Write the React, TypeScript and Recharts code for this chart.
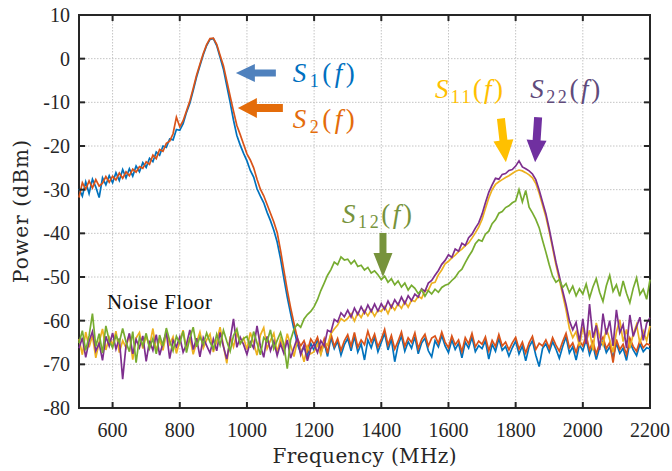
import React from 'react';
import {
  LineChart,
  Line,
  XAxis,
  YAxis,
  CartesianGrid,
  ReferenceArea,
  ReferenceDot,
} from 'recharts';

// sampling grid of the spectrum analyser trace (MHz)
const F_START = 500;
const F_STEP = 10;

const X_TICKS = [600, 800, 1000, 1200, 1400, 1600, 1800, 2000, 2200];
const Y_TICKS = [-80, -70, -60, -50, -40, -30, -20, -10, 0, 10];

// S1(f) - blue
const S1 = [
  -29.8, -31.5, -28.2, -30.9, -27.6, -29.4, -31.8, -27.3, -28.9, -26.8,
  -28.4, -26.1, -27.9, -25.4, -27.3, -25.2, -26.9, -24.6, -25.9, -23.8,
  -24.9, -22.8, -23.6, -21.4, -22.1, -20.0, -20.3, -18.4, -18.6, -16.2,
  -16.4, -14.9, -12.3, -10.2, -7.3, -4.2, -1.6, 0.9, 3.0, 4.4,
  4.6, 3.0, 0.3, -2.4, -6.2, -10.0, -14.1, -17.6, -19.8, -21.7,
  -23.4, -25.6, -27.1, -29.8, -31.5, -33.0, -35.2, -37.1, -39.3, -42.0,
  -45.8, -50.3, -54.6, -58.4, -62.0, -65.3, -67.4, -66.1, -68.0, -65.2,
  -66.8, -64.3, -67.5, -65.0, -68.2, -63.9, -66.4, -64.7, -67.9, -65.5,
  -64.1, -66.9, -63.6, -67.2, -65.3, -69.0, -64.4, -66.2, -63.8, -67.1,
  -65.0, -62.9, -66.7, -64.2, -69.4, -65.6, -63.5, -67.0, -64.8, -66.3,
  -63.7, -67.6, -65.1, -64.0, -66.9, -68.3, -64.6, -66.0, -63.4, -65.8,
  -67.3, -64.4, -66.6, -65.2, -68.5, -64.9, -66.3, -63.8, -67.1, -65.7,
  -66.4, -64.6, -68.8, -65.4, -67.0, -64.1, -66.8, -65.9, -68.1, -66.2,
  -64.7, -67.6, -65.8, -69.2, -66.0, -64.6, -67.9, -70.5, -66.4, -65.3,
  -67.2, -64.8, -66.5, -68.6, -65.9, -63.7, -67.4, -66.0, -69.0, -65.5,
  -66.9, -64.3, -67.8, -65.6, -68.9, -66.1, -64.7, -67.3, -66.0, -68.4,
  -65.2, -67.5, -66.3, -69.1, -64.9, -66.7, -68.0, -65.4, -67.1, -66.2,
  -66.5,
];

// S2(f) - orange
const S2 = [
  -31.8, -28.4, -29.9, -28.0, -29.6, -27.7, -29.2, -28.5, -27.0, -28.3,
  -26.9, -27.8, -26.2, -27.4, -25.9, -26.8, -25.3, -26.0, -24.7, -25.1,
  -23.6, -24.2, -22.1, -22.9, -20.8, -21.2, -19.4, -18.9, -17.2, -13.4,
  -15.6, -14.2, -12.0, -9.7, -6.8, -3.8, -1.3, 1.2, 3.2, 4.6,
  4.7, 3.3, 0.8, -1.6, -5.1, -8.6, -12.0, -15.3, -17.4, -19.6,
  -21.8, -23.2, -25.0, -27.6, -29.9, -31.4, -33.4, -35.4, -37.4, -39.8,
  -43.9, -48.5, -53.0, -57.0, -60.6, -64.0, -65.8, -64.6, -66.9, -64.2,
  -65.4, -63.8, -66.7, -64.2, -67.5, -63.0, -65.9, -64.1, -66.8, -64.6,
  -63.2, -65.8, -62.7, -66.1, -64.4, -65.5, -62.4, -64.9, -63.1, -66.0,
  -64.2, -62.0, -65.6, -63.4, -66.5, -64.7, -62.6, -65.9, -63.9, -65.0,
  -62.8, -66.4, -64.3, -63.1, -65.8, -64.0, -63.5, -65.2, -62.6, -64.9,
  -66.2, -63.5, -65.5, -64.4, -67.1, -63.9, -65.3, -62.9, -66.0, -64.7,
  -65.4, -63.7, -66.9, -64.5, -65.9, -63.2, -65.8, -64.9, -66.7, -65.1,
  -63.8, -66.5, -64.9, -67.4, -65.1, -63.6, -66.6, -65.2, -65.8, -64.4,
  -66.3, -63.9, -65.6, -67.0, -64.8, -62.9, -66.2, -65.1, -67.3, -64.6,
  -65.8, -63.4, -66.7, -64.7, -67.6, -65.2, -63.8, -66.4, -65.0, -69.6,
  -64.3, -66.6, -65.4, -67.8, -64.0, -65.9, -67.0, -64.5, -66.2, -65.3,
  -65.6,
];

// S11(f) - yellow
const S11 = [
  -64.2, -67.8, -62.6, -66.1, -63.4, -68.5, -64.9, -61.9, -66.7, -63.8,
  -65.5, -62.4, -67.3, -64.6, -66.2, -63.1, -68.9, -64.0, -62.7, -66.4,
  -63.5, -65.9, -61.8, -67.0, -64.3, -66.8, -62.9, -65.4, -63.7, -67.5,
  -64.6, -62.2, -66.5, -63.9, -67.7, -65.0, -62.6, -66.3, -64.4, -63.1,
  -67.2, -64.8, -61.5, -65.7, -69.8, -63.6, -66.0, -62.8, -65.2, -64.0,
  -66.6, -62.7, -65.1, -67.9, -63.3, -61.6, -66.4, -64.5, -62.9, -67.3,
  -64.1, -66.8, -63.0, -65.6, -68.2, -64.7, -66.5, -69.4, -65.9, -67.6,
  -67.1, -65.4, -67.8, -64.9, -65.6, -63.0, -61.9, -61.0, -59.5, -60.1,
  -59.5, -58.4, -60.1, -58.2, -59.3, -57.7, -58.9, -57.5, -59.0, -57.6,
  -57.9, -56.8, -58.4, -56.5, -57.6, -56.1, -57.2, -55.6, -56.9, -55.3,
  -55.6, -54.4, -54.9, -53.1, -53.0, -51.4, -51.2, -49.5, -48.4, -47.0,
  -46.4, -45.6, -45.0, -44.2, -43.6, -42.8, -42.2, -41.1, -39.9, -38.6,
  -36.8, -34.3, -31.9, -30.0, -28.8, -28.2, -27.7, -27.2, -26.8, -26.3,
  -25.8, -25.5, -25.7, -26.1, -26.6, -27.3, -28.6, -30.8, -33.5, -36.2,
  -39.6, -43.4, -47.2, -50.6, -54.0, -57.5, -61.8, -63.9, -62.5, -65.8,
  -61.4, -64.9, -62.2, -66.8, -60.5, -63.7, -65.6, -61.8, -64.3, -67.2,
  -62.6, -59.8, -64.8, -62.0, -66.3, -63.1, -60.9, -65.2, -62.4, -64.6,
  -61.2,
];

// S22(f) - purple
const S22 = [
  -66.3, -63.9, -68.4, -64.7, -62.5, -66.9, -65.2, -69.1, -63.6, -65.8,
  -62.8, -66.5, -64.1, -73.4, -65.7, -62.9, -67.6, -64.3, -66.2, -63.5,
  -69.3, -64.6, -66.8, -63.2, -67.9, -65.1, -62.6, -68.7, -64.5, -66.0,
  -63.7, -67.2, -65.4, -62.1, -66.6, -64.0, -68.3, -63.9, -65.7, -67.4,
  -64.2, -66.9, -62.7, -65.9, -68.8, -64.4, -59.6, -66.1, -63.8, -65.5,
  -67.7, -64.9, -66.3, -61.2, -65.8, -68.4, -63.6, -66.9, -64.7, -68.0,
  -65.3, -67.5, -64.4, -68.6, -66.2, -63.9, -67.8, -65.6, -69.2, -66.4,
  -65.4, -67.3, -64.6, -65.8, -62.2, -62.6, -59.7, -60.3, -58.2, -59.1,
  -57.6, -59.2, -57.1, -58.6, -56.8, -58.3, -56.4, -57.9, -56.2, -57.8,
  -56.1, -57.4, -55.5, -57.0, -55.2, -56.4, -54.6, -56.1, -54.3, -55.4,
  -53.9, -54.6, -52.7, -53.3, -51.4, -50.8, -49.6, -48.5, -47.1, -46.2,
  -44.9, -45.5, -43.6, -44.1, -42.3, -42.8, -41.0, -40.2, -38.8, -37.6,
  -35.6, -33.0, -30.6, -28.9, -27.4, -27.6, -26.5, -26.3, -25.6, -25.4,
  -24.6, -23.4, -24.8, -25.2, -25.7, -26.4, -27.7, -30.1, -32.8, -35.5,
  -39.0, -42.8, -46.6, -49.8, -53.2, -56.3, -60.0, -62.1, -60.4, -64.8,
  -59.6, -65.3, -56.2, -63.9, -61.1, -66.7, -58.4, -63.2, -60.0, -65.8,
  -57.5, -62.8, -60.9, -66.3, -58.7, -63.6, -61.4, -59.2, -64.5, -60.6,
  -59.3,
];

// S12(f) - green
const S12 = [
  -65.1, -62.3, -66.8, -63.5, -58.4, -65.9, -63.0, -67.4, -61.2, -64.6,
  -66.2, -63.4, -65.0, -61.8, -64.9, -67.1, -62.5, -69.6, -63.8, -65.7,
  -62.9, -66.4, -64.1, -67.6, -63.3, -65.8, -61.7, -64.6, -66.9, -63.6,
  -65.2, -62.4, -67.3, -64.0, -61.5, -66.0, -63.7, -65.4, -62.8, -64.9,
  -66.5, -63.1, -65.6, -62.2, -64.7, -67.0, -63.4, -61.9, -65.3, -64.1,
  -63.6, -66.2, -62.5, -65.1, -67.8, -63.9, -64.8, -62.1, -66.4, -64.5,
  -62.7, -65.5, -71.0, -64.4, -62.0, -60.8, -61.5, -59.6, -58.6, -57.9,
  -56.8, -55.2, -53.1, -51.4, -49.6, -48.3, -46.6, -47.2, -45.4, -46.1,
  -45.9, -47.0, -46.2, -47.6, -47.3, -48.4, -47.8, -49.1, -48.6, -49.5,
  -50.6, -49.8, -51.2, -50.4, -51.8, -50.9, -52.3, -51.4, -53.0, -51.9,
  -52.6, -53.8, -52.9, -54.4, -53.1, -53.9, -52.8, -53.5, -52.4, -51.9,
  -51.6, -50.8, -50.1, -48.9, -48.2, -46.7, -45.3, -44.1, -42.4, -41.5,
  -41.8, -40.2, -39.5, -37.8, -36.9, -35.4, -35.0, -34.1, -33.7, -33.0,
  -32.6, -30.0, -32.8, -30.2, -34.0, -35.3, -36.8, -38.7, -41.6, -44.3,
  -47.2, -49.8, -51.2, -50.6, -52.4, -51.5, -53.6, -52.1, -54.3, -52.7,
  -53.9, -51.6, -54.8, -52.3, -50.4, -53.5, -55.6, -52.0, -49.6, -53.3,
  -51.8, -54.4, -50.9, -53.7, -55.9, -52.6, -50.2, -54.0, -52.8, -55.1,
  -50.6,
];

const FREQ = S1.map((_, i) => F_START + i * F_STEP);

const rows = FREQ.map((f, i) => ({
  f,
  s1: S1[i],
  s2: S2[i],
  s11: S11[i],
  s22: S22[i],
  s12: S12[i],
}));

// plot box in px (used for the inward tick marks)
const PLOT_TOP = 15;
const PLOT_BOTTOM = 408;
const PLOT_LEFT = 79;
const PLOT_RIGHT = 650;

const AXIS = '#262626';
const FONT = '"Liberation Serif", serif';
const TITLE_FONT = '"DejaVu Serif", serif';

// arrow + label annotations, anchored at the arrow tip (data coords)
const NOTES = [
  { f: 967, p: -3.3, dir: [-1, 0], len: 40, shaft: 7, headW: 18, headL: 19, arrow: '#4F81BD', text: '#0070C0', sub: '1', lx: 57, ly: 9, w: 62 },
  { f: 973, p: -11.3, dir: [-1, 0], len: 45, shaft: 8, headW: 20, headL: 19, arrow: '#E46C0A', text: '#E46C0A', sub: '2', lx: 55, ly: 20, w: 62 },
  { f: 1771, p: -23.7, dir: [5, 44], len: 44, shaft: 8, headW: 20, headL: 22, arrow: '#FFC000', text: '#FFC000', sub: '11', lx: -71, ly: -64, w: 68 },
  { f: 1858, p: -23.7, dir: [-3, 45], len: 45, shaft: 8, headW: 20, headL: 22, arrow: '#7030A0', text: '#604A7B', sub: '22', lx: -5, ly: -64, w: 70 },
  { f: 1405, p: -50, dir: [0, 1], len: 44, shaft: 7, headW: 19, headL: 24, arrow: '#77933C', text: '#77933C', sub: '12', lx: -41, ly: -54, w: 70 },
];

function arrowPoints(tx: number, ty: number, d: number[], len: number, shaft: number, headW: number, headL: number) {
  const n = Math.hypot(d[0], d[1]);
  const ux = d[0] / n;
  const uy = d[1] / n;
  const nx = -uy;
  const ny = ux;
  const bx = tx - ux * headL;
  const by = ty - uy * headL;
  const ex = tx - ux * len;
  const ey = ty - uy * len;
  const pts = [
    [tx, ty],
    [bx + (nx * headW) / 2, by + (ny * headW) / 2],
    [bx + (nx * shaft) / 2, by + (ny * shaft) / 2],
    [ex + (nx * shaft) / 2, ey + (ny * shaft) / 2],
    [ex - (nx * shaft) / 2, ey - (ny * shaft) / 2],
    [bx - (nx * shaft) / 2, by - (ny * shaft) / 2],
    [bx - (nx * headW) / 2, by - (ny * headW) / 2],
  ];
  return pts.map((p) => p.join(',')).join(' ');
}

function noteShape(note: any) {
  return (props: any) => {
    const { cx, cy } = props;
    if (cx == null || cy == null) return <g />;
    return (
      <g>
        <polygon
          points={arrowPoints(cx, cy, note.dir, note.len, note.shaft, note.headW, note.headL)}
          fill={note.arrow}
        />
        <text
          x={cx + note.lx}
          y={cy + note.ly}
          fill={note.text}
          fontFamily={FONT}
          fontSize={27}
          textLength={note.w}
          lengthAdjust="spacing"
        >
          <tspan fontStyle="italic">S</tspan>
          <tspan fontSize={18} dy={5}>
            {note.sub}
          </tspan>
          <tspan dy={-5}>(</tspan>
          <tspan fontStyle="italic">f</tspan>
          <tspan>)</tspan>
        </text>
      </g>
    );
  };
}

function XTick({ x, payload }: any) {
  return (
    <g>
      <line x1={x} x2={x} y1={PLOT_BOTTOM} y2={PLOT_BOTTOM - 6} stroke={AXIS} strokeWidth={2} />
      <line x1={x} x2={x} y1={PLOT_TOP} y2={PLOT_TOP + 6} stroke={AXIS} strokeWidth={2} />
      <text x={x} y={PLOT_BOTTOM + 29} textAnchor="middle" fill={AXIS} fontFamily={FONT} fontSize={20}>
        {payload.value}
      </text>
    </g>
  );
}

function YTick({ y, payload }: any) {
  return (
    <g>
      <line x1={PLOT_LEFT} x2={PLOT_LEFT + 6} y1={y} y2={y} stroke={AXIS} strokeWidth={2} />
      <line x1={PLOT_RIGHT} x2={PLOT_RIGHT - 6} y1={y} y2={y} stroke={AXIS} strokeWidth={2} />
      <text x={PLOT_LEFT - 9} y={y} dy={7} textAnchor="end" fill={AXIS} fontFamily={FONT} fontSize={20}>
        {payload.value}
      </text>
    </g>
  );
}

export default function App() {
  return (
    <div style={{ position: 'absolute', left: 0, top: 0, background: '#fff' }}>
      <LineChart
        width={672}
        height={471}
        data={rows}
        margin={{ top: 15, right: 22, bottom: 0, left: 0 }}
      >
        <CartesianGrid stroke="#c4c4c4" strokeDasharray="1.5 1.5" />
        <XAxis
          dataKey="f"
          type="number"
          domain={[500, 2200]}
          ticks={X_TICKS}
          tick={(p: any) => <XTick {...p} />}
          tickLine={false}
          axisLine={false}
          height={63}
          label={{
            content: (p: any) => {
              const vb = p.viewBox || { x: PLOT_LEFT, width: PLOT_RIGHT - PLOT_LEFT };
              return (
                <text
                  x={vb.x + vb.width / 2}
                  y={PLOT_BOTTOM + 55}
                  textAnchor="middle"
                  fill={AXIS}
                  fontFamily={TITLE_FONT}
                  fontSize={20}
                  textLength={184}
                  lengthAdjust="spacing"
                >
                  Frequency (MHz)
                </text>
              );
            },
          }}
        />
        <YAxis
          type="number"
          domain={[-80, 10]}
          ticks={Y_TICKS}
          width={79}
          tick={(p: any) => <YTick {...p} />}
          tickLine={false}
          axisLine={false}
          label={{
            content: (p: any) => {
              const vb = p.viewBox || { y: PLOT_TOP, height: PLOT_BOTTOM - PLOT_TOP };
              const cy = vb.y + vb.height / 2;
              return (
                <text
                  x={21}
                  y={cy}
                  transform={`rotate(-90 21 ${cy})`}
                  textAnchor="middle"
                  dominantBaseline="central"
                  fill={AXIS}
                  fontFamily={TITLE_FONT}
                  fontSize={20}
                  textLength={143}
                  lengthAdjust="spacing"
                >
                  Power (dBm)
                </text>
              );
            },
          }}
        />
        <Line dataKey="s1" type="linear" stroke="#0072BD" strokeWidth={1.7} dot={false} isAnimationActive={false} />
        <Line dataKey="s2" type="linear" stroke="#D95319" strokeWidth={1.7} dot={false} isAnimationActive={false} />
        <Line dataKey="s11" type="linear" stroke="#EDB120" strokeWidth={1.7} dot={false} isAnimationActive={false} />
        <Line dataKey="s22" type="linear" stroke="#7E2F8E" strokeWidth={1.7} dot={false} isAnimationActive={false} />
        <Line dataKey="s12" type="linear" stroke="#77AC30" strokeWidth={1.7} dot={false} isAnimationActive={false} />
        <ReferenceArea x1={500} x2={2200} y1={-80} y2={10} fill="none" stroke={AXIS} strokeWidth={2} />
        <ReferenceDot
          x={583}
          y={-57.3}
          ifOverflow="visible"
          shape={(p: any) => (
            <text x={p.cx} y={p.cy} fill="#111" fontFamily={FONT} fontSize={21} textLength={105} lengthAdjust="spacing">
              Noise Floor
            </text>
          )}
        />
        {NOTES.map((n) => (
          <ReferenceDot key={n.sub} x={n.f} y={n.p} ifOverflow="visible" shape={noteShape(n)} />
        ))}
      </LineChart>
    </div>
  );
}
